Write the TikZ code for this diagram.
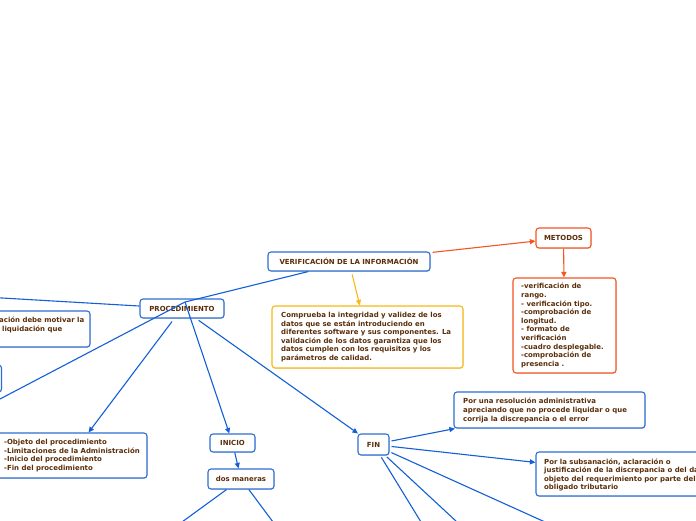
\documentclass[tikz,border=0pt]{standalone}
\usepackage{fontspec}
\setmainfont{DejaVu Sans}
\usetikzlibrary{shadows,arrows.meta,calc}
\definecolor{bluebd}{RGB}{45,110,210}
\definecolor{blueln}{RGB}{20,95,215}
\definecolor{orangeln}{RGB}{245,85,35}
\definecolor{yellowln}{RGB}{250,185,20}
\definecolor{txtc}{RGB}{90,45,8}
\tikzset{
 mmbox/.style={draw=bluebd, line width=1.1pt, rounded corners=3pt, fill=white, inner sep=0pt,
   drop shadow={opacity=0.25, shadow xshift=0.5pt, shadow yshift=-0.8pt}},
 obox/.style={mmbox, draw=orangeln},
 ybox/.style={mmbox, draw=yellowln},
 mmtxt/.style={text=txtc, font=\fontsize{6.95}{8.6}\selectfont\bfseries, inner sep=0pt, align=left},
 conn/.style={draw=blueln, line width=1.1pt},
 tip/.style={-{Triangle[length=5.5pt,width=5pt]}},
}
\begin{document}
\begin{tikzpicture}[x=1pt,y=-1pt]
\useasboundingbox (0,0) rectangle (696,520);
\fill[white] (0,0) rectangle (696,520);
\clip (0,0) rectangle (696,520);

% nodes
\node[mmbox, mmtxt, minimum width=162pt, minimum height=19pt] (verif) at (349,261.5) {VERIFICACIÓN DE LA INFORMACIÓN};
\node[obox, mmtxt, minimum width=55pt, minimum height=20pt] (metodos) at (563.5,238) {METODOS};
\node[obox, minimum width=103pt, minimum height=95pt] (metlist) at (564.5,325.5) {};
\node[mmtxt, anchor=west] (metlisttxt) at (521,325.5) {-verificación de\\rango.\\- verificación tipo.\\-comprobación de\\longitud.\\- formato de\\verificación\\-cuadro desplegable.\\-comprobación de\\presencia .};
\node[ybox, minimum width=191pt, minimum height=62pt] (compr) at (367.5,337) {};
\node[mmtxt, anchor=west] (comprtxt) at (281,337) {Comprueba la integridad y validez de los\\datos que se están introduciendo en\\diferentes software y sus componentes. La\\validación de los datos garantiza que los\\datos cumplen con los requisitos y los\\parámetros de calidad.};
\node[mmbox, mmtxt, minimum width=84pt, minimum height=19pt] (proc) at (182,308.5) {PROCEDIMIENTO};
\node[mmbox, minimum width=140pt, minimum height=36pt] (liq) at (20,329) {};
\node[mmtxt, anchor=west] (liqtxt) at (-1,325) {ación debe motivar la\\\hspace*{3pt}liquidación que};
\node[mmbox, minimum width=40pt, minimum height=27pt] (small) at (-18.5,378.5) {};
\node[mmbox, minimum width=187pt, minimum height=45pt] (objeto) at (53.5,455.5) {};
\node[mmtxt, anchor=west] (objetotxt) at (4,455.5) {-Objeto del procedimiento\\-Limitaciones de la Administración\\-Inicio del procedimiento\\-Fin del procedimiento};
\node[mmbox, mmtxt, minimum width=45pt, minimum height=18pt] (inicio) at (232.5,443) {INICIO};
\node[mmbox, mmtxt, minimum width=66pt, minimum height=20pt] (dos) at (241,479) {dos maneras};
\node[mmbox, mmtxt, minimum width=31pt, minimum height=21pt] (fin) at (373.5,444.5) {FIN};
\node[mmbox, minimum width=191pt, minimum height=36pt] (poruna) at (549.5,410) {};
\node[mmtxt, anchor=west] (porunatxt) at (463,410.5) {Por una resolución administrativa\\apreciando que no procede liquidar o que\\corrija la discrepancia o el error};
\node[mmbox, minimum width=210pt, minimum height=44pt] (porla) at (641,474) {};
\node[mmtxt, anchor=west] (porlatxt) at (544,475) {Por la subsanación, aclaración o\\justificación de la discrepancia o del dato\\objeto del requerimiento por parte del\\obligado tributario};

% free ends
\coordinate (hub) at (185,302);
\coordinate (offA) at (-5,401.6);
\coordinate (offB) at (-10,297.3);
\coordinate (offC) at (545,522);
\coordinate (offD) at (457,522);
\coordinate (offE) at (421,522);
\coordinate (offF) at (182,522);
\coordinate (offG) at (273,522);

% connectors
\draw[conn, draw=orangeln, tip, shorten <=2pt] (verif) -- (metodos);
\draw[conn, draw=orangeln, tip] (metodos) -- (metlist);
\draw[conn, draw=yellowln, tip, shorten <=3pt] (verif) -- (compr);
\draw[conn] (verif) -- (hub) -- (offA);
\draw[conn] (proc) -- (offB);
\draw[conn, tip] (hub) -- (inicio);
\draw[conn, tip] ($(proc.south)+(-10,3)$) -- ($(objeto.north east)+(-59,0)$);
\draw[conn, tip, shorten <=3pt] (proc) -- (fin);
\draw[conn, tip] (inicio) -- (dos);
\draw[conn, tip, shorten <=2pt] (fin) -- (poruna);
\draw[conn, tip, shorten <=2pt] (fin) -- (porla);
\draw[conn, shorten <=2pt] (fin) -- (offC);
\draw[conn, shorten <=2pt] (fin) -- (offD);
\draw[conn, shorten <=2pt] (fin) -- (offE);
\draw[conn] (dos) -- (offF);
\draw[conn] (dos) -- (offG);
\end{tikzpicture}
\end{document}
